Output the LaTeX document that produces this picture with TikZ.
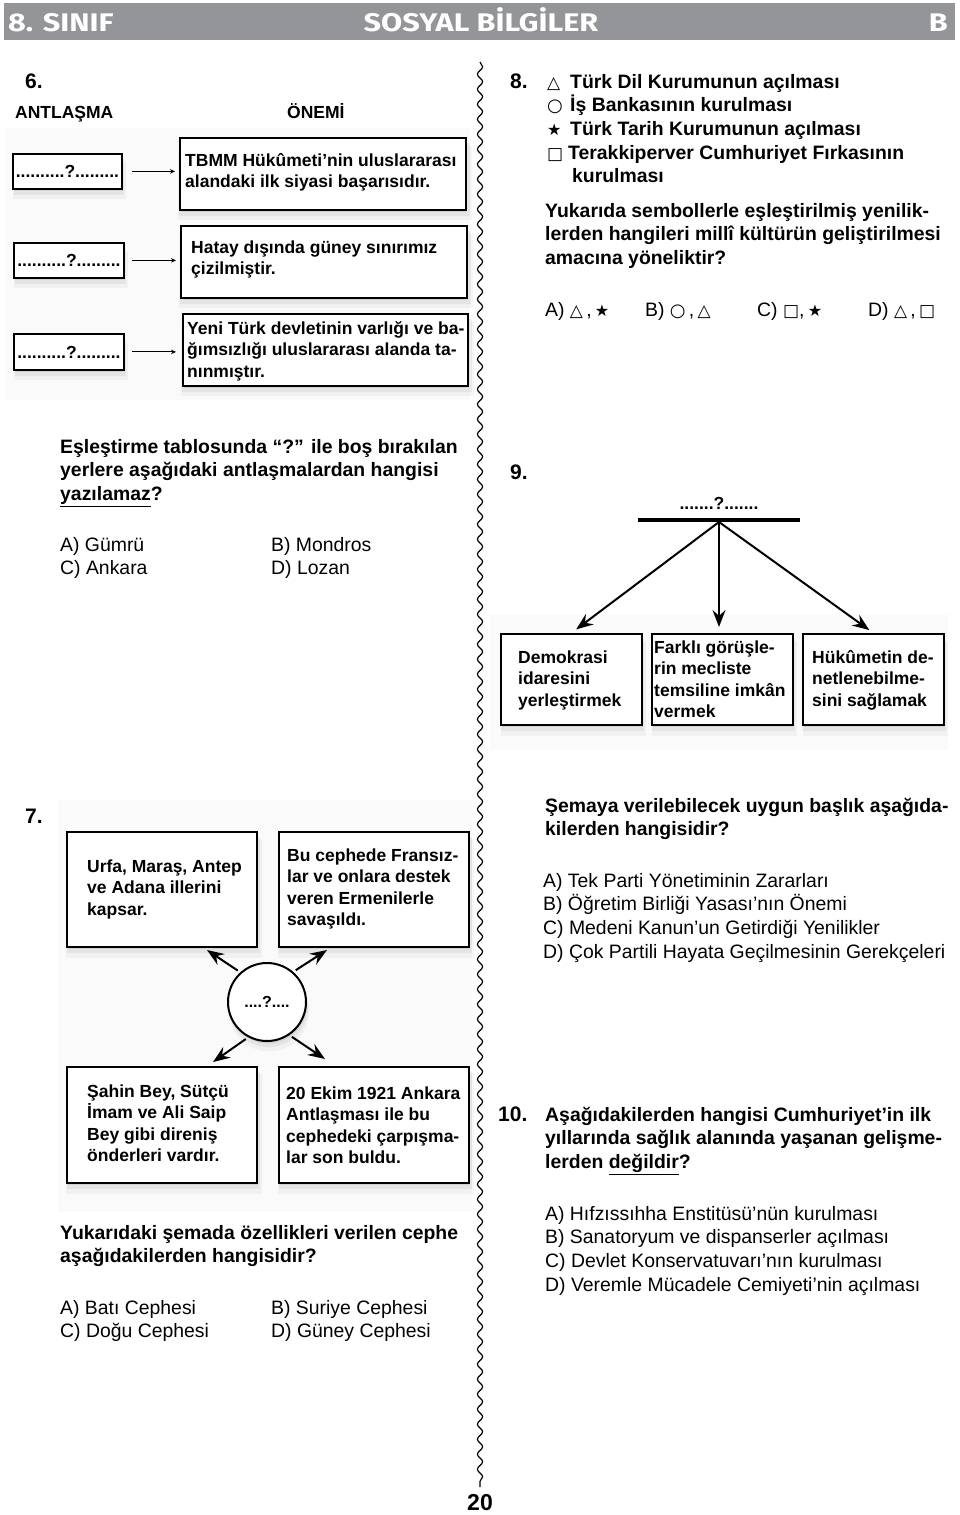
\documentclass[tikz,border=0pt]{standalone}
\usepackage{fontspec}
\setmainfont{Liberation Sans}
\newfontfamily\mysym{DejaVu Sans}
\newfontfamily\myhead[FakeStretch=1.2]{Fira Sans}
\usetikzlibrary{arrows.meta,shadows,decorations.pathmorphing}
\newcommand\qsize{\fontsize{19.4}{23.7}\selectfont}
\newcommand\bsize{\fontsize{17.5}{21.5}\selectfont}
\newcommand\nsize{\fontsize{21}{25}\selectfont}
\newcommand\tri{{\mysym\mdseries\fontsize{17}{17}\selectfont △}}
\newcommand\cir{{\mysym\mdseries\fontsize{18}{18}\selectfont ○}}
\newcommand\str{{\mysym\mdseries\fontsize{16}{16}\selectfont ★}}
\newcommand\sqr{{\mysym\mdseries\fontsize{17}{17}\selectfont □}}
\definecolor{headgray}{RGB}{147,149,152}
\begin{document}
\begin{tikzpicture}[x=1pt,y=-1pt,
  softsh/.style={general shadow={fill=black,opacity=0.035,shadow xshift=2pt,shadow yshift=-9pt,shadow scale=1.03},
                 general shadow={fill=black,opacity=0.05,shadow xshift=1.5pt,shadow yshift=-5.5pt,shadow scale=1.015},
                 general shadow={fill=black,opacity=0.07,shadow xshift=1pt,shadow yshift=-2.5pt}},
  bx/.style={draw,line width=1.8pt,fill=white,inner sep=0pt,anchor=north west,softsh},
  btext/.style={anchor=base west,align=left,inner sep=0pt,font=\bsize\bfseries},
  qb/.style={anchor=base west,align=left,inner sep=0pt,font=\qsize\bfseries},
  qr/.style={anchor=base west,align=left,inner sep=0pt,font=\qsize},
  num/.style={anchor=base west,inner sep=0pt,font=\nsize\bfseries},
  hdr/.style={inner sep=0pt,text=white,font=\myhead\bfseries\fontsize{25.5}{25.5}\selectfont},
  smallarr/.style={-{Stealth[length=5pt,width=4.5pt]},line width=1.1pt},
  bigarr/.style={-{Stealth[length=17pt,width=13pt,inset=6pt]},line width=2pt},
  wave/.style={decorate,decoration={snake,segment length=15pt,amplitude=2.6pt},line width=1.2pt},
  bgarea/.style={fill=black!2,draw=none}
]
\useasboundingbox (0,0) rectangle (960,1515);
\fill[white] (0,0) rectangle (960,1515);

% header
\fill[headgray] (4,3) rectangle (955,40);
\node[hdr,anchor=base west] (h1) at (8,31) {8. SINIF};
\node[hdr,anchor=base] (h2) at (481,31) {SOSYAL BİLGİLER};
\node[hdr,anchor=base east] (h3) at (948,31) {B};

% background areas
\fill[bgarea] (5,128) rectangle (470,400);
\fill[bgarea] (490,615) rectangle (948,750);
\fill[bgarea] (58,800) rectangle (472,1212);

% divider
\draw[wave] (480,62) -- (480,1487);
\node[font=\fontsize{23}{23}\selectfont\bfseries,inner sep=0pt] (pg) at (480,1503) {20};

% ---------------- Q6
\node[num] (n6) at (25,88) {6.};
\node[anchor=base west,inner sep=0pt,font=\fontsize{17.5}{20}\selectfont\bfseries] (hA) at (15,118) {ANTLAŞMA};
\node[anchor=base west,inner sep=0pt,font=\fontsize{17.5}{20}\selectfont\bfseries] (hO) at (287,118) {ÖNEMİ};

\node[bx,minimum width=109pt,minimum height=35pt,font=\bsize\bfseries] (l1) at (12,153) {..........?.........};
\node[bx,minimum width=110pt,minimum height=35pt,font=\bsize\bfseries] (l2) at (13,242) {..........?.........};
\node[bx,minimum width=110pt,minimum height=36pt,font=\bsize\bfseries] (l3) at (13,333) {..........?.........};

\node[bx,minimum width=286pt,minimum height=72pt] (r1) at (179,137) {};
\node[bx,minimum width=286pt,minimum height=72pt] (r2) at (180,225) {};
\node[bx,minimum width=285pt,minimum height=72pt] (r3) at (182,313) {};
\node[btext] (r1t) at (185,187.5) {TBMM Hükûmeti’nin uluslararası\\alandaki ilk siyasi başarısıdır.};
\node[btext] (r2t) at (191,274.5) {Hatay dışında güney sınırımız\\çizilmiştir.};
\node[btext] (r3t) at (187,377) {Yeni Türk devletinin varlığı ve ba-\\ğımsızlığı uluslararası alanda ta-\\nınmıştır.};

\draw[smallarr,shorten <=9pt,shorten >=4pt] (l1.east) -- (l1.east -| r1.west);
\draw[smallarr,shorten <=7pt,shorten >=4pt] (l2.east) -- (l2.east -| r2.west);
\draw[smallarr,shorten <=7pt,shorten >=6pt] (l3.east) -- (l3.east -| r3.west);

\node[qb] (q6) at (60,500.4) {Eşleştirme tablosunda “?” ile boş bırakılan\\yerlere aşağıdaki antlaşmalardan hangisi\\\underline{yazılamaz}?};
\node[qr] (a6a) at (60,574.7) {A) Gümrü\\C) Ankara};
\node[qr] (a6b) at (271,574.7) {B) Mondros\\D) Lozan};

% ---------------- Q7
\node[num] (n7) at (25,823) {7.};
\node[bx,minimum width=190pt,minimum height=115pt] (tl) at (66,831) {};
\node[bx,minimum width=190pt,minimum height=115pt] (tr) at (278,831) {};
\node[bx,minimum width=190pt,minimum height=116pt] (bl) at (66,1066) {};
\node[bx,minimum width=190pt,minimum height=116pt] (br) at (278,1066) {};
\node[btext] (tlt) at (87,915) {Urfa, Maraş, Antep\\ve Adana illerini\\kapsar.};
\node[btext] (trt) at (287,925.5) {Bu cephede Fransız-\\lar ve onlara destek\\veren Ermenilerle\\savaşıldı.};
\node[btext] (blt) at (87,1161.5) {Şahin Bey, Sütçü\\İmam ve Ali Saip\\Bey gibi direniş\\önderleri vardır.};
\node[btext] (brt) at (286,1163.5) {20 Ekim 1921 Ankara\\Antlaşması ile bu\\cephedeki çarpışma-\\lar son buldu.};
\node[circle,draw,line width=2pt,fill=white,minimum size=78pt,inner sep=0pt,softsh,font=\fontsize{16}{18}\selectfont\bfseries] (c7) at (267,1002) {....?....};
\coordinate (e1) at (207,950);
\coordinate (e2) at (327,950);
\coordinate (e3) at (213,1062);
\coordinate (e4) at (325,1059);
\draw[bigarr,shorten <=3pt] (c7.132) -- (e1);
\draw[bigarr,shorten <=3pt] (c7.49) -- (e2);
\draw[bigarr,shorten <=3pt] (c7.242) -- (e3);
\draw[bigarr,shorten <=3pt] (c7.304) -- (e4);

\node[qb] (q7) at (60,1262.7) {Yukarıdaki şemada özellikleri verilen cephe\\aşağıdakilerden hangisidir?};
\node[qr] (a7a) at (60,1337.7) {A) Batı Cephesi\\C) Doğu Cephesi};
\node[qr] (a7b) at (271,1337.7) {B) Suriye Cephesi\\D) Güney Cephesi};

% ---------------- Q8
\node[num] (n8) at (510,88) {8.};
\node[qb] (q8l) at (547,182.8) {\makebox[23pt][l]{\tri}Türk Dil Kurumunun açılması\\
\makebox[23pt][l]{\cir}İş Bankasının kurulması\\
\makebox[23pt][l]{\str}Türk Tarih Kurumunun açılması\\
\makebox[21pt][l]{\sqr}Terakkiperver Cumhuriyet Fırkasının\\
\hspace{25pt}kurulması};
\node[qb] (q8) at (545,264.4) {Yukarıda sembollerle eşleştirilmiş yenilik-\\lerden hangileri millî kültürün geliştirilmesi\\amacına yöneliktir?};
\node[qr] (a8a) at (545,316) {A) \tri\,,\,\str};
\node[qr] (a8b) at (645,316) {B) \cir\,,\,\tri};
\node[qr] (a8c) at (757,316) {C) \sqr,\,\str};
\node[qr] (a8d) at (868,316) {D) \tri\,,\,\sqr};

% ---------------- Q9
\node[num] (n9) at (510,479) {9.};
\node[inner sep=0pt,font=\bsize\bfseries] (t9) at (719,503) {.......?.......};
\draw[line width=4.5pt] (638,520) -- (800,520);
\coordinate (apex) at (719,522);
\node[bx,minimum width=141pt,minimum height=91pt] (b1) at (500,633) {};
\node[bx,minimum width=141pt,minimum height=91pt] (b2) at (651,633) {};
\node[bx,minimum width=141pt,minimum height=91pt] (b3) at (802,633) {};
\node[btext] (b1t) at (518,706) {Demokrasi\\idaresini\\yerleştirmek};
\node[btext] (b2t) at (654,717.5) {Farklı görüşle-\\rin mecliste\\temsiline imkân\\vermek};
\node[btext] (b3t) at (812,706) {Hükûmetin de-\\netlenebilme-\\sini sağlamak};
\draw[bigarr,shorten >=6pt] (apex) -- (b1.north);
\draw[bigarr,shorten >=6pt] (apex) -- (apex |- b2.north);
\draw[bigarr,shorten >=5pt] (apex) -- (b3.north);

\node[qb] (q9) at (545,835.7) {Şemaya verilebilecek uygun başlık aşağıda-\\kilerden hangisidir?};
\node[qr] (a9) at (543,958.1) {A) Tek Parti Yönetiminin Zararları\\B) Öğretim Birliği Yasası’nın Önemi\\C) Medeni Kanun’un Getirdiği Yenilikler\\D) Çok Partili Hayata Geçilmesinin Gerekçeleri};

% ---------------- Q10
\node[num] (n10) at (498,1121) {10.};
\node[qb] (q10) at (545,1168.4) {Aşağıdakilerden hangisi Cumhuriyet’in ilk\\yıllarında sağlık alanında yaşanan gelişme-\\lerden \underline{değildir}?};
\node[qr] (a10) at (545,1291.1) {A) Hıfzıssıhha Enstitüsü’nün kurulması\\B) Sanatoryum ve dispanserler açılması\\C) Devlet Konservatuvarı’nın kurulması\\D) Veremle Mücadele Cemiyeti’nin açılması};
\end{tikzpicture}
\end{document}
